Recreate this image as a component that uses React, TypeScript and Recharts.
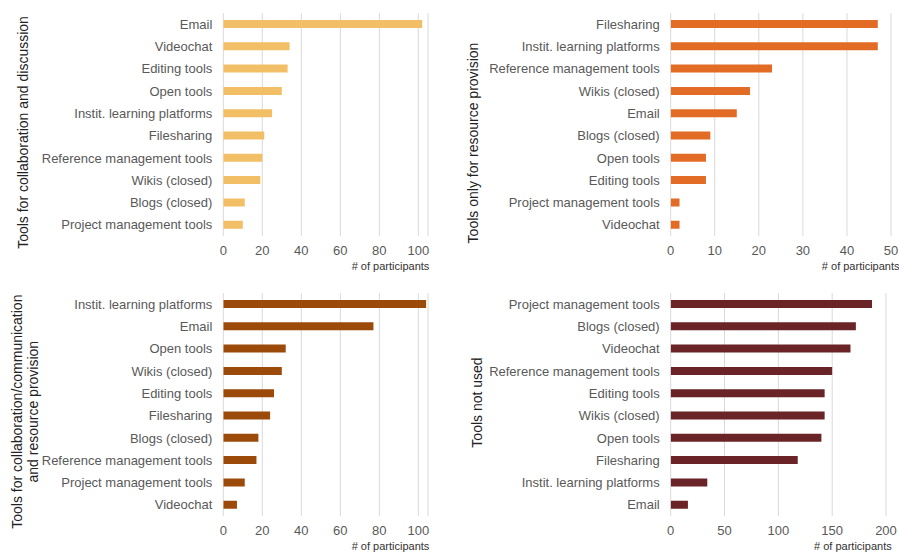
import React from 'react';
import { BarChart, Bar, XAxis, YAxis, CartesianGrid, Label } from 'recharts';

const collabCategories = ['Email', 'Videochat', 'Editing tools', 'Open tools', 'Instit. learning platforms', 'Filesharing', 'Reference management tools', 'Wikis (closed)', 'Blogs (closed)', 'Project management tools'];
const collabValues = [102, 34, 33, 30, 25, 21, 20, 19, 11, 10];

const resourceCategories = ['Filesharing', 'Instit. learning platforms', 'Reference management tools', 'Wikis (closed)', 'Email', 'Blogs (closed)', 'Open tools', 'Editing tools', 'Project management tools', 'Videochat'];
const resourceValues = [47, 47, 23, 18, 15, 9, 8, 8, 2, 2];

const bothCategories = ['Instit. learning platforms', 'Email', 'Open tools', 'Wikis (closed)', 'Editing tools', 'Filesharing', 'Blogs (closed)', 'Reference management tools', 'Project management tools', 'Videochat'];
const bothValues = [104, 77, 32, 30, 26, 24, 18, 17, 11, 7];

const notUsedCategories = ['Project management tools', 'Blogs (closed)', 'Videochat', 'Reference management tools', 'Editing tools', 'Wikis (closed)', 'Open tools', 'Filesharing', 'Instit. learning platforms', 'Email'];
const notUsedValues = [187, 172, 167, 150, 143, 143, 140, 118, 34, 16];

const ticks100 = [0, 20, 40, 60, 80, 100];
const ticks50 = [0, 10, 20, 30, 40, 50];
const ticks200 = [0, 50, 100, 150, 200];

const FONT = '"Liberation Sans", Arial, sans-serif';
const TEXT = '#595959';

type PanelProps = {
  categories: string[];
  values: number[];
  color: string;
  domain: [number, number];
  ticks: number[];
  titleLines: string[];
  titleX: number;
  titleY: number;
  left: number;
  top: number;
  width: number;
  yAxisWidth: number;
  rightMargin: number;
  unitDx: number;
};

function Panel(p: PanelProps) {
  const data = p.categories.map((c, i) => ({ name: c, value: p.values[i] }));
  const height = 278;
  return (
    <div style={{ position: 'absolute', left: p.left, top: p.top, width: p.width, height }}>
      <BarChart
        width={p.width}
        height={height}
        data={data}
        layout="vertical"
        margin={{ top: 13, right: p.rightMargin, bottom: 0, left: 0 }}
        style={{ overflow: 'visible' }}
      >
        <CartesianGrid horizontal={false} vertical={true} stroke="#d9d9d9" strokeWidth={1} />
        <XAxis
          type="number"
          domain={p.domain}
          ticks={p.ticks}
          axisLine={false}
          tickLine={false}
          tickSize={6}
          tickMargin={4}
          height={42}
          tick={{ fontSize: 13, fill: TEXT, fontFamily: FONT }}
          allowDataOverflow
        >
          <Label
            content={(props: any) => {
              const vb = props.viewBox || {};
              return (
                <text
                  x={vb.x + vb.width + p.unitDx}
                  y={vb.y + 34}
                  textAnchor="end"
                  fontSize={11}
                  fill="#333"
                  fontFamily={FONT}
                >
                  # of participants
                </text>
              );
            }}
          />
        </XAxis>
        <YAxis
          type="category"
          dataKey="name"
          width={p.yAxisWidth}
          axisLine={false}
          tickLine={false}
          tickSize={6}
          tickMargin={5}
          interval={0}
          tick={{ fontSize: 13, fill: TEXT, fontFamily: FONT }}
        >
          <Label
            content={() => (
              <g>
                {p.titleLines.map((line, i) => (
                  <text
                    key={i}
                    x={p.titleX + i * 16.6}
                    y={p.titleY}
                    transform={`rotate(-90, ${p.titleX + i * 16.6}, ${p.titleY})`}
                    textAnchor="middle"
                    dominantBaseline="central"
                    fontSize={14}
                    fill="#222"
                    fontFamily={FONT}
                  >
                    {line}
                  </text>
                ))}
              </g>
            )}
          />
        </YAxis>
        <Bar dataKey="value" fill={p.color} barSize={8} isAnimationActive={false} />
      </BarChart>
    </div>
  );
}

export default function App() {
  return (
    <div style={{ position: 'absolute', left: 0, top: 0, width: 899, height: 555, background: '#fff', overflow: 'hidden' }}>
      <Panel
        categories={collabCategories}
        values={collabValues}
        color="#F3BF66"
        domain={[0, 105]}
        ticks={ticks100}
        titleLines={['Tools for collaboration and discussion']}
        titleX={23}
        titleY={132.5}
        left={0}
        top={0}
        width={450}
        yAxisWidth={223.3}
        rightMargin={450 - 223.3 - 204.75}
        unitDx={1.3}
      />
      <Panel
        categories={resourceCategories}
        values={resourceValues}
        color="#E26B25"
        domain={[0, 50]}
        ticks={ticks50}
        titleLines={['Tools only for resource provision']}
        titleX={23.3}
        titleY={143}
        left={450}
        top={0}
        width={449}
        yAxisWidth={220.7}
        rightMargin={449 - 220.7 - 220.3}
        unitDx={8.5}
      />
      <Panel
        categories={bothCategories}
        values={bothValues}
        color="#9C4A0A"
        domain={[0, 105]}
        ticks={ticks100}
        titleLines={['Tools for collaboration/communication', 'and resource provision']}
        titleX={16.7}
        titleY={131.7}
        left={0}
        top={280}
        width={450}
        yAxisWidth={223.3}
        rightMargin={450 - 223.3 - 204.75}
        unitDx={1.3}
      />
      <Panel
        categories={notUsedCategories}
        values={notUsedValues}
        color="#6A2326"
        domain={[0, 200]}
        ticks={ticks200}
        titleLines={['Tools not used']}
        titleX={26.7}
        titleY={122.5}
        left={450}
        top={280}
        width={449}
        yAxisWidth={220.7}
        rightMargin={449 - 220.7 - 215.3}
        unitDx={5.7}
      />
    </div>
  );
}
